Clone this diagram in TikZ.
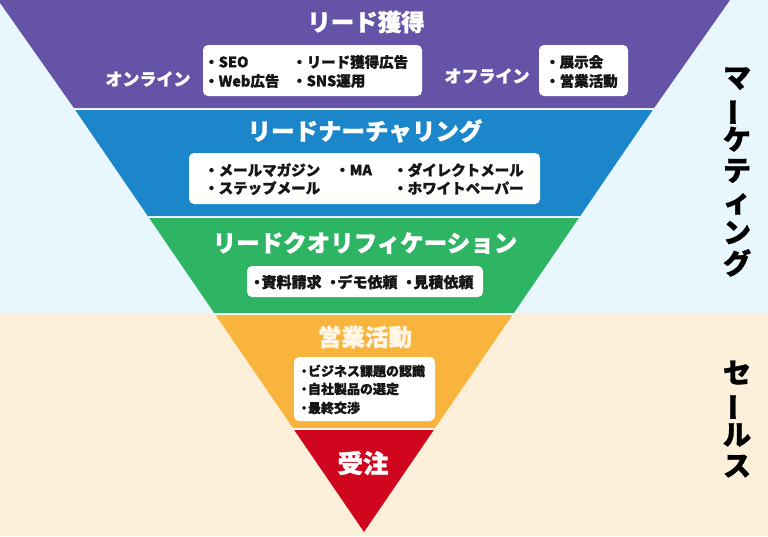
\documentclass[tikz,border=0pt]{standalone}
\usepackage{fontspec}
\usepackage{graphicx}
\setmainfont{Noto Sans CJK JP}[BoldFeatures={FakeBold=1.2}]
\definecolor{bgblue}{HTML}{E8F6FD}
\definecolor{bgcream}{HTML}{FDF0DA}
\definecolor{cpurple}{HTML}{6553A7}
\definecolor{cblue}{HTML}{1B86C9}
\definecolor{cgreen}{HTML}{2DB564}
\definecolor{corange}{HTML}{F8B43D}
\definecolor{cred}{HTML}{D0061E}
\definecolor{ink}{HTML}{161616}
\definecolor{cream}{HTML}{FFF6E6}
\tikzset{
  title/.style={font=\bfseries\fontsize{23.5}{26}\selectfont, text=white, inner sep=0pt},
  side/.style={font=\bfseries\fontsize{17}{19}\selectfont, text=white, inner sep=0pt},
  item/.style={font=\bfseries\fontsize{14.5}{16}\selectfont, text=ink, inner sep=0pt, anchor=west},
  sitem/.style={font=\bfseries\fontsize{13}{15}\selectfont, text=ink, inner sep=0pt, anchor=west},
  wbox/.style={fill=white, rounded corners=5pt},
  vert/.style={font=\bfseries\fontsize{28}{31}\selectfont, text=black, align=center, inner sep=0pt}
}
\newcommand{\vbar}{\rotatebox[origin=c]{90}{ー}}
\newcommand{\hb}{\makebox[0.6em][c]{・}}
\begin{document}
\begin{tikzpicture}[x=1pt,y=-1pt]
\useasboundingbox (0,0) rectangle (768,536);
% backgrounds
\fill[bgblue] (0,0) rectangle (768,313);
\fill[bgcream] (0,313) rectangle (768,536);
% funnel white base
\def\k{0.6842}
\fill[white] (0,0) -- (728,0) -- (364,532) -- cycle;
% bands
\fill[cpurple] (-2,0) -- (730,0) -- ({728-\k*108},108) -- ({\k*108},108) -- cycle;
\fill[cblue] ({\k*110},110) -- ({728-\k*110},110) -- ({728-\k*216},216) -- ({\k*216},216) -- cycle;
\fill[cgreen] ({\k*218},218) -- ({728-\k*218},218) -- ({728-\k*313},313) -- ({\k*313},313) -- cycle;
\fill[corange] ({\k*315},315) -- ({728-\k*315},315) -- ({728-\k*428},428) -- ({\k*428},428) -- cycle;
\fill[cred] ({\k*430},430) -- ({728-\k*430},430) -- (364,532) -- cycle;

% band 1
\node[title] (t1) at (366,22) {リード獲得};
\node[side] (on) at (148,79) {オンライン};
\fill[wbox] (203,45) rectangle (422,96);
\node[item] (i11) at (204,62) {・SEO};
\node[item] (i12) at (204,81) {・Web広告};
\node[item] (i13) at (292,62) {・リード獲得広告};
\node[item] (i14) at (292,81) {・SNS運用};
\node[side] (off) at (487,76) {オフライン};
\fill[wbox] (539,45) rectangle (628,96);
\node[item] (i15) at (545,62) {・展示会};
\node[item] (i16) at (545,81) {・営業活動};

% band 2
\node[title] (t2) at (365,131) {リードナーチャリング};
\fill[wbox] (189,153) rectangle (540,204);
\node[item] (i21) at (204,170) {・メールマガジン};
\node[item] (i22) at (204,188) {・ステップメール};
\node[item] (i23) at (335,170) {・MA};
\node[item] (i24) at (393,170) {・ダイレクトメール};
\node[item] (i25) at (393,188) {・ホワイトペーパー};

% band 3
\node[title] (t3) at (365,243) {リードクオリフィケーション};
\fill[wbox] (247,266) rectangle (483,297);
\node[item, anchor=center, font=\bfseries\fontsize{15}{17}\selectfont] (i31) at (363,282) {\hb 資料請求\hspace{7pt}\hb デモ依頼\hspace{7pt}\hb 見積依頼};

% band 4
\node[title, text=cream] (t4) at (365,337) {営業活動};
\fill[wbox] (294,357) rectangle (435,421);
\node[sitem] (i41) at (300,371) {\hb ビジネス課題の認識};
\node[sitem] (i42) at (300,389) {\hb 自社製品の選定};
\node[sitem] (i43) at (300,408) {\hb 最終交渉};

% band 5
\node[title, font=\bfseries\fontsize{25.5}{28}\selectfont] (t5) at (363,463) {受注};

% side labels
\node[vert] (mk) at (737,172) {マ\\\vbar\\ケ\\テ\\ィ\\ン\\グ};
\node[vert] (sl) at (737,419) {セ\\\vbar\\ル\\ス};
\end{tikzpicture}
\end{document}
